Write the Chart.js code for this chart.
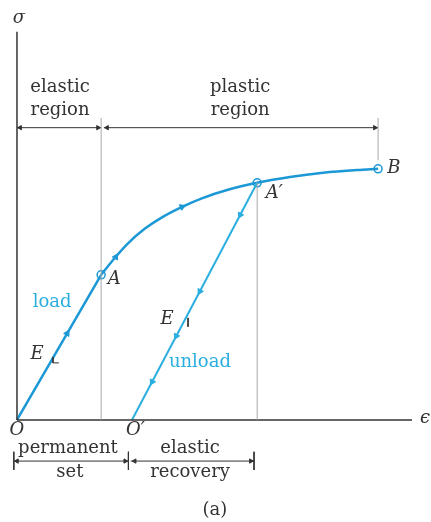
<!DOCTYPE html>
<html>
<head>
<meta charset="utf-8">
<script src="https://cdn.jsdelivr.net/npm/chart.js@4/dist/chart.umd.min.js"></script>
<style>
  html, body { margin: 0; padding: 0; background: #fff; }
  #wrap { width: 431px; height: 522px; position: relative; }
</style>
</head>
<body>
<div id="wrap"><canvas id="stressStrain"></canvas></div>
<script>
// stress-strain curve, strain (eps) vs stress (sig), arbitrary units
const loadEps = [0, 2.13];
const loadSig = [0, 3.74];
const curveEps = [2.13, 2.48, 2.81, 3.24, 3.67, 4.18, 4.68, 5.34, 6.08, 6.91, 7.75, 8.61, 9.14];
const curveSig = [3.74, 4.18, 4.55, 4.93, 5.22, 5.49, 5.71, 5.93, 6.11, 6.26, 6.37, 6.44, 6.47];
const unloadEps = [6.08, 2.91];
const unloadSig = [6.11, 0];

// named points A, A', B
const pointEps = [2.13, 6.08, 9.14];
const pointSig = [3.74, 6.11, 6.47];

// direction arrows on the path
const loadArrowEps = [1.27, 2.50];
const loadArrowSig = [2.23, 4.20];
const curveArrowEps = [4.18];
const curveArrowSig = [5.49];
const unloadArrowEps = [5.65, 4.63, 4.03, 3.42];
const unloadArrowSig = [5.28, 3.31, 2.16, 0.98];

// region boundaries
const regionTop = 7.78;
const regionArrowSig = 7.53;
const bottomArrowSig = -1.06;

const BLUE = '#1b98d5';
const BLUE_LIGHT = '#2aaee0';
const GRAY = '#a9a9a9';
const INK = '#333';
const SERIF = '18px "DejaVu Serif"';
const ITAL = 'italic 18px "DejaVu Serif"';

const pts = (xs, ys) => xs.map((x, i) => ({ x: x, y: ys[i] }));

function line(xs, ys, color, width) {
    return {
        data: pts(xs, ys),
        showLine: true,
        borderColor: color,
        borderWidth: width,
        pointRadius: 0,
        tension: 0,
    };
}

function arrows(xs, ys, color, rot, r) {
    return {
        data: pts(xs, ys),
        showLine: false,
        pointStyle: 'triangle',
        rotation: rot,
        pointRadius: r,
        backgroundColor: color,
        borderColor: color,
        borderWidth: 1,
    };
}

const labels = [
    { t: 'σ', x: 0.05, y: 10.36, f: ITAL, c: INK },
    { t: 'elastic', x: 1.09, y: 8.56, f: SERIF, c: INK },
    { t: 'region', x: 1.09, y: 7.99, f: SERIF, c: INK },
    { t: 'plastic', x: 5.65, y: 8.56, f: SERIF, c: INK },
    { t: 'region', x: 5.65, y: 7.99, f: SERIF, c: INK },
    { t: 'B', x: 9.37, y: 6.47, f: ITAL, c: INK, a: 'left' },
    { t: 'A′', x: 6.30, y: 5.85, f: ITAL, c: INK, a: 'left' },
    { t: 'A', x: 2.30, y: 3.61, f: ITAL, c: INK, a: 'left' },
    { t: 'load', x: 0.89, y: 3.04, f: SERIF, c: BLUE_LIGHT },
    { t: 'E', x: 0.51, y: 1.68, f: ITAL, c: INK },
    { t: 'E', x: 3.80, y: 2.58, f: ITAL, c: INK },
    { t: 'unload', x: 4.63, y: 1.49, f: SERIF, c: BLUE_LIGHT },
    { t: 'O', x: 0, y: -0.28, f: ITAL, c: INK },
    { t: 'O′', x: 3.0, y: -0.28, f: ITAL, c: INK },
    { t: 'permanent', x: 1.29, y: -0.72, f: SERIF, c: INK },
    { t: 'set', x: 1.34, y: -1.34, f: SERIF, c: INK },
    { t: 'elastic', x: 4.38, y: -0.72, f: SERIF, c: INK },
    { t: 'recovery', x: 4.38, y: -1.34, f: SERIF, c: INK },
    { t: 'ϵ', x: 10.33, y: 0.03, f: ITAL, c: INK },
    { t: '(a)', x: 5.01, y: -2.32, f: SERIF, c: INK },
];

const textPlugin = {
    id: 'texts',
    afterDatasetsDraw(chart) {
        const { ctx, scales } = chart;
        ctx.save();
        ctx.textBaseline = 'middle';
        labels.forEach(l => {
            ctx.font = l.f;
            ctx.fillStyle = l.c;
            ctx.textAlign = l.a || 'center';
            ctx.fillText(l.t, scales.x.getPixelForValue(l.x), scales.y.getPixelForValue(l.y));
        });
        ctx.restore();
    }
};

const datasets = [
    // guides
    line([2.13, 2.13], [0, regionTop], GRAY, 1),
    line([6.08, 6.08], [0, 6.11], GRAY, 1),
    line([9.14, 9.14], [6.70, regionTop], GRAY, 1),
    // axes
    line([0, 0], [0, 10], INK, 1.5),
    line([0, 10], [0, 0], INK, 1.5),
    // region dimension lines
    line([0, 2.13], [regionArrowSig, regionArrowSig], INK, 1),
    line([2.2, 9.14], [regionArrowSig, regionArrowSig], INK, 1),
    arrows([0.08, 2.28], [regionArrowSig, regionArrowSig], INK, 270, 2.5),
    arrows([2.05, 9.06], [regionArrowSig, regionArrowSig], INK, 90, 2.5),
    // bottom dimension lines
    line([-0.08, 2.82], [bottomArrowSig, bottomArrowSig], INK, 1),
    line([2.88, 6.0], [bottomArrowSig, bottomArrowSig], INK, 1),
    line([-0.08, -0.08], [-0.82, -1.29], INK, 1),
    line([2.82, 2.82], [-0.82, -1.29], INK, 1),
    line([6.0, 6.0], [-0.82, -1.29], INK, 1),
    arrows([0.0, 2.98], [bottomArrowSig, bottomArrowSig], INK, 270, 2.5),
    arrows([2.74, 5.92], [bottomArrowSig, bottomArrowSig], INK, 90, 2.5),
    // slope marks
    line([0.91, 0.91, 1.06], [1.62, 1.47, 1.47], INK, 1),
    line([4.33, 4.33], [2.63, 2.40], INK, 1),
    // curves
    line(unloadEps, unloadSig, BLUE_LIGHT, 2),
    line(loadEps, loadSig, BLUE, 2.5),
    Object.assign(line(curveEps, curveSig, BLUE, 2.5), { cubicInterpolationMode: 'monotone' }),
    arrows(loadArrowEps, loadArrowSig, BLUE, 30, 3.5),
    arrows(curveArrowEps, curveArrowSig, BLUE, 68, 3.5),
    arrows(unloadArrowEps, unloadArrowSig, BLUE_LIGHT, 208, 3.5),
    {
        data: pts(pointEps, pointSig),
        showLine: false,
        pointRadius: 4,
        pointBackgroundColor: '#fff',
        pointBorderColor: BLUE,
        pointBorderWidth: 1.5,
    },
];

new Chart(document.getElementById('stressStrain'), {
    type: 'scatter',
    data: { datasets: datasets },
    options: {
        responsive: true,
        maintainAspectRatio: false,
        animation: false,
        layout: { padding: 0, autoPadding: false },
        plugins: { legend: { display: false }, tooltip: { enabled: false } },
        scales: {
            x: { type: 'linear', min: -0.43, max: 10.48, display: false },
            y: { type: 'linear', min: -2.63, max: 10.82, display: false },
        },
        elements: { line: { borderCapStyle: 'butt' } },
    },
    plugins: [textPlugin],
});
</script>
</body>
</html>
